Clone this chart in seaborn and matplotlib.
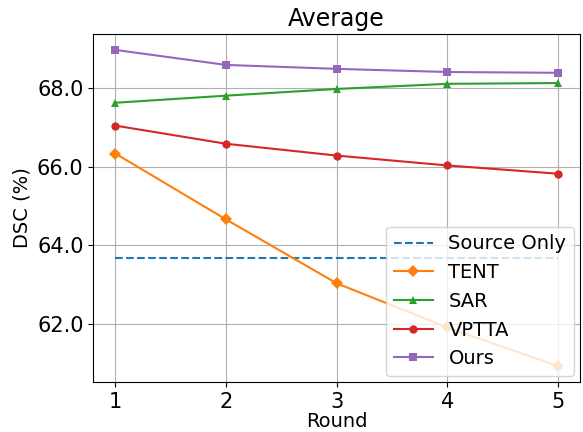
import numpy as np
import pandas as pd
import seaborn as sns
import matplotlib.pyplot as plt

rounds = [1, 2, 3, 4, 5]
source_only = [63.68, 63.68, 63.68, 63.68, 63.68]
tent = [66.33, 64.66, 63.04, 61.92, 60.94]
sar = [67.62, 67.80, 67.97, 68.10, 68.12]
vptta = [67.04, 66.58, 66.28, 66.03, 65.82]
ours = [68.96, 68.58, 68.48, 68.40, 68.38]

fig, ax = plt.subplots(figsize=(5.83, 4.32), dpi=100)

sns.lineplot(x=rounds, y=source_only, ax=ax, color='C0', linestyle='--', label='Source Only')
sns.lineplot(x=rounds, y=tent, ax=ax, color='C1', marker='D', markeredgewidth=0, label='TENT')
sns.lineplot(x=rounds, y=sar, ax=ax, color='C2', marker='^', markeredgewidth=0, label='SAR')
sns.lineplot(x=rounds, y=vptta, ax=ax, color='C3', marker='o', markeredgewidth=0, label='VPTTA')
sns.lineplot(x=rounds, y=ours, ax=ax, color='C4', marker='s', markeredgewidth=0, label='Ours')

ax.set_xticks(rounds)
ax.set_yticks([62, 64, 66, 68])
ax.set_yticklabels(['62.0', '64.0', '66.0', '68.0'])
ax.tick_params(labelsize=15)
ax.grid(True)
ax.set_xlabel('Round', fontsize=14, labelpad=0)
ax.set_ylabel('DSC (%)', fontsize=14)
ax.set_title('Average', fontsize=17)
ax.legend(loc='lower right', fontsize=14, borderaxespad=0.3)

plt.subplots_adjust(left=0.16, right=0.995, top=0.921, bottom=0.116)
plt.savefig('out.png')
